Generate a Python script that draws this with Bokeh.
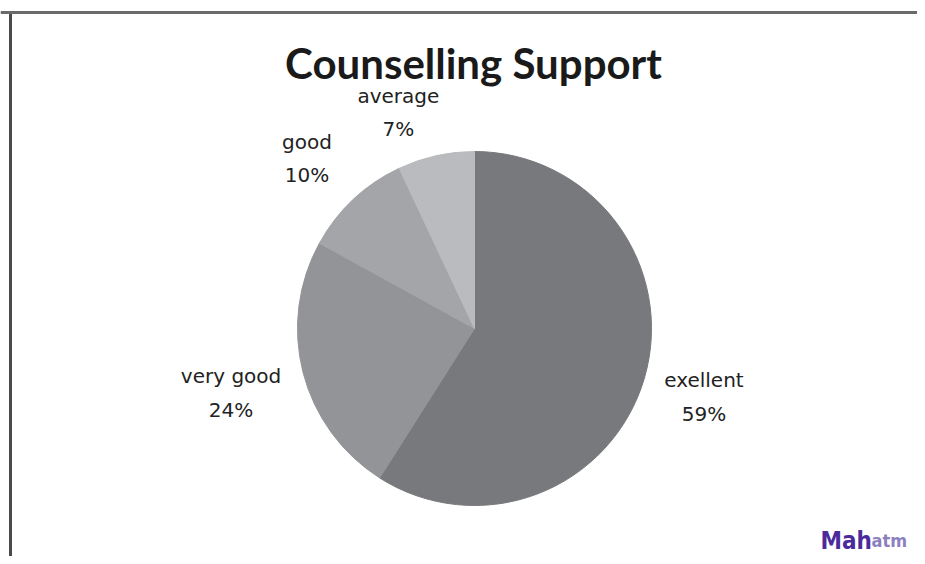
import math
from bokeh.plotting import figure
from bokeh.models import Range1d, Span, Label, ColumnDataSource
from bokeh.core.properties import value
from bokeh.embed import file_html
from bokeh.resources import INLINE

# ---- data ----
categories = ["exellent", "very good", "good", "average"]
percents = [59, 24, 10, 7]
colors = ["#78797c", "#939497", "#a4a5a8", "#babbbe"]
title_text = "Counselling Support"

# ---- layout (pixels within figure) ----
W, H = 917, 556
cx, cy, R = 474, 228, 177          # pie centre (data coords) and radius
label_dist = 1.35 * R
label_nudge = [(0, -2), (-12, -5), (-4, -4), (-24, -17)]
frame_top, frame_left = 544, 10

p = figure(width=W, height=H, output_backend="svg", toolbar_location=None,
           x_range=Range1d(0, W), y_range=Range1d(0, H),
           min_border=0, outline_line_color=None,
           x_axis_location=None, y_axis_location=None)
p.grid.visible = False
p.background_fill_color = "white"
p.border_fill_color = "white"

# wedges: start at 12 o'clock, clockwise
start, end, mids = [], [], []
a = math.pi / 2
for pc in percents:
    sweep = pc / 100 * 2 * math.pi
    start.append(a)
    end.append(a - sweep)
    mids.append(a - sweep / 2)
    a -= sweep

src = ColumnDataSource(dict(start=start, end=end, color=colors,
                            x=[cx] * len(percents), y=[cy] * len(percents)))
p.wedge(x="x", y="y", radius=R, start_angle="start", end_angle="end",
        direction="clock", fill_color="color", line_color="color",
        line_width=1, source=src)

# labels
lx, ly, lt = [], [], []
for cat, pc, m, (nx, ny) in zip(categories, percents, mids, label_nudge):
    lx.append(cx + label_dist * math.cos(m) + nx)
    ly.append(cy + label_dist * math.sin(m) + ny)
    lt.append(f"{cat}\n{pc}%")
p.text(x=lx, y=ly, text=lt, text_align="center", text_baseline="middle",
       text_font=value("DejaVu Sans"), text_font_size="20px", text_color="#222222",
       text_line_height=1.4)

# title
p.add_layout(Label(x=473, y=494, text=title_text, text_align="center",
                   text_baseline="middle", text_font="Lato",
                   text_font_style="bold", text_font_size="42px",
                   text_color="#1a1a1a"))

# frame lines of the scanned chart box
p.add_layout(Span(location=frame_top, dimension="width", line_color="#6a6a6a", line_width=3))
p.segment(x0=[frame_left], y0=[0], x1=[frame_left], y1=[frame_top + 1],
          line_color="#4a4a4a", line_width=3)

# watermark fragment
p.add_layout(Label(x=820, y=2, text="Mah", text_font="DejaVu Sans Condensed",
                   text_font_style="bold", text_font_size="24px",
                   text_color="#4a2a9c", text_baseline="bottom"))
p.add_layout(Label(x=871, y=6, text="atm", text_font="DejaVu Sans Condensed",
                   text_font_style="bold", text_font_size="18px",
                   text_color="#8d80bf", text_baseline="bottom"))

open("out.html", "w").write(file_html(p, INLINE))
